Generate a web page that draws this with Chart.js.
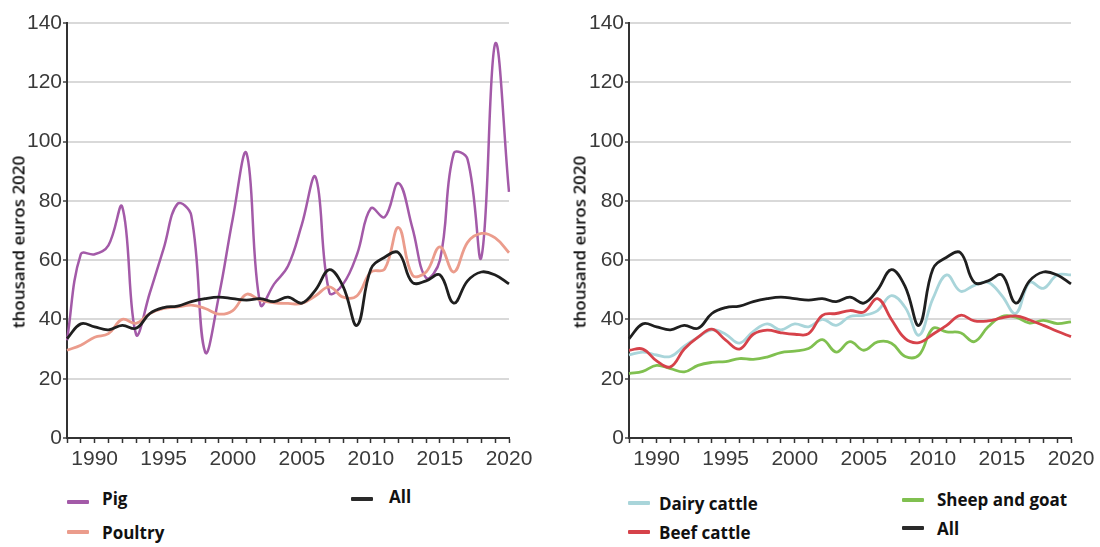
<!DOCTYPE html>
<html><head><meta charset="utf-8">
<script src="https://cdn.jsdelivr.net/npm/chart.js@4.4.0/dist/chart.umd.min.js"></script>
<style>
html,body{margin:0;padding:0;background:#fff;overflow:hidden;width:1100px;height:547px;position:relative;}
.wrap{position:absolute;top:0;height:480px;}
.ytitle{position:absolute;font-family:'Open Sans';font-weight:600;font-size:17px;color:#111;white-space:nowrap;transform:translate(-50%,-50%) rotate(-90deg);}
.lg{position:absolute;font-family:'Open Sans';font-weight:700;font-size:17px;color:#111;white-space:nowrap;transform:translateY(-50%);}
.sw{position:absolute;height:4px;width:22px;transform:translateY(-50%);border-radius:1px;}
</style></head>
<body>
<div class="wrap" style="left:0;width:550px;"><canvas id="c1"></canvas></div>
<div class="wrap" style="left:562px;width:538px;"><canvas id="c2"></canvas></div>
<div class="ytitle" style="left:18px;top:242px;">thousand euros 2020</div>
<div class="ytitle" style="left:579px;top:242px;">thousand euros 2020</div>

<div class="sw" style="left:67px;top:502px;background:#a35aa8"></div><div class="lg" style="left:102px;top:498px;">Pig</div>
<div class="sw" style="left:67px;top:532px;background:#eb9c8c"></div><div class="lg" style="left:102px;top:532px;">Poultry</div>
<div class="sw" style="left:351px;top:499px;background:#2a2a2a"></div><div class="lg" style="left:389px;top:496px;">All</div>

<div class="sw" style="left:628px;top:503px;background:#a9d5da"></div><div class="lg" style="left:659px;top:503px;">Dairy cattle</div>
<div class="sw" style="left:628px;top:532px;background:#d6424a"></div><div class="lg" style="left:659px;top:532px;">Beef cattle</div>
<div class="sw" style="left:902px;top:500px;background:#80c050"></div><div class="lg" style="left:937px;top:499px;">Sheep and goat</div>
<div class="sw" style="left:902px;top:528px;background:#2a2a2a"></div><div class="lg" style="left:937px;top:528px;">All</div>

<script>
const years = [1988,1989,1990,1991,1992,1993,1994,1995,1996,1997,1998,1999,2000,2001,2002,2003,2004,2005,2006,2007,2008,2009,2010,2011,2012,2013,2014,2015,2016,2017,2018,2019,2020];
const pig = [33,62,62,65,78,35,49,64,79,75,29,48,74,96,45,52,58,72,88,49,52,62,77.5,74.5,86,71,54,60,96,94,61,133,83];
const poultry = [29.6,31.3,34,35.2,40,38.7,42,43.7,44.2,44.8,43.7,41.8,43,48.5,46.5,45.6,45.4,45.4,48,51,47.5,48,56,57,71,55,56,64.5,56,66,69,67.5,62.5];
const allFarms = [33.5,38.5,37.5,36.5,38,37,42,44,44.5,46,47,47.5,47,46.5,47,46,47.5,45.5,50,56.8,51,38,57,61,62.5,52.5,53,55,45.5,53,56,55,52];
const dairy = [28,29,28,27.5,31,34,36.5,35,32,36,38.5,36.5,38.5,37.5,40,38,41,41.4,43,48,44,34.7,47,55,49.5,51.5,52.5,48,42,52.5,50.5,55,55];
const beef = [29.6,30,26,24,30,34,36.7,33,30,35,36.4,35.5,35,35.2,41.4,42,43,42.5,47,40,33.5,32.2,35,38,41.4,39.5,39.5,40.5,41.2,39.8,38,36,34.2];
const sheep = [21.7,22.5,24.5,23.4,22.3,24.5,25.5,25.8,26.8,26.5,27.3,28.8,29.3,30.2,33.2,29,32.5,29.6,32.4,32,27.5,28,37,35.8,35.5,32.5,37.5,41,40.8,38.8,39.7,38.6,39.2];
const yTicks = [0,20,40,60,80,100,120,140];

const tickFont = {family:"'Liberation Sans Narrow', 'Arial Narrow', sans-serif", size:21};

function ds(label, data, color, order, width){
  return {label, data, borderColor: color, backgroundColor: color, borderWidth: width||2.5,
    pointRadius:0, tension:0.4, fill:false, order};
}

function makeChart(id, datasets, padRight){
  return new Chart(document.getElementById(id), {
    type:'line',
    data:{labels: years, datasets},
    options:{
      responsive:false, animation:false, maintainAspectRatio:false,
      layout:{padding:{top:23, left:0, right:padRight, bottom:0}},
      plugins:{legend:{display:false}, tooltip:{enabled:false}},
      scales:{
        x:{
          type:'category', offset:false,
          grid:{display:true, drawOnChartArea:false, drawTicks:true, tickLength:5, tickColor:'#333', tickWidth:1.5},
          border:{display:true, color:'#333', width:2},
          ticks:{autoSkip:false, maxRotation:0, minRotation:0, padding:4, color:'#3a3a3a', font:tickFont,
            callback:function(v, i){ const y = years[i]; return (y % 5 === 0) ? String(y) : ''; }},
          afterFit: s => { s.height = 42; }
        },
        y:{
          min:0, max:140,
          afterBuildTicks: s => { s.ticks = yTicks.map(v => ({value:v})); },
          grid:{color:'#d9d9d9', lineWidth:2, tickLength:4, tickColor:'#444', tickWidth:1.5},
          border:{display:true, color:'#333', width:2},
          ticks:{padding:1, color:'#3a3a3a', font:tickFont},
          afterFit: s => { s.width = 67; }
        }
      }
    }
  });
}

const c1 = document.getElementById('c1'); c1.width = 550; c1.height = 480;
const c2 = document.getElementById('c2'); c2.width = 538; c2.height = 480;

makeChart('c1', [
  ds('All', allFarms, '#1f1f1f', 0, 2.8),
  ds('Pig', pig, '#a35aa8', 2, 2.5),
  ds('Poultry', poultry, '#eb9c8c', 1, 2.8)
], 41);

makeChart('c2', [
  ds('All', allFarms, '#1f1f1f', 0, 2.8),
  ds('Dairy cattle', dairy, '#a9d5da', 3, 2.8),
  ds('Beef cattle', beef, '#d6424a', 1, 2.8),
  ds('Sheep and goat', sheep, '#80c050', 2, 2.8)
], 29);
</script>
</body></html>
